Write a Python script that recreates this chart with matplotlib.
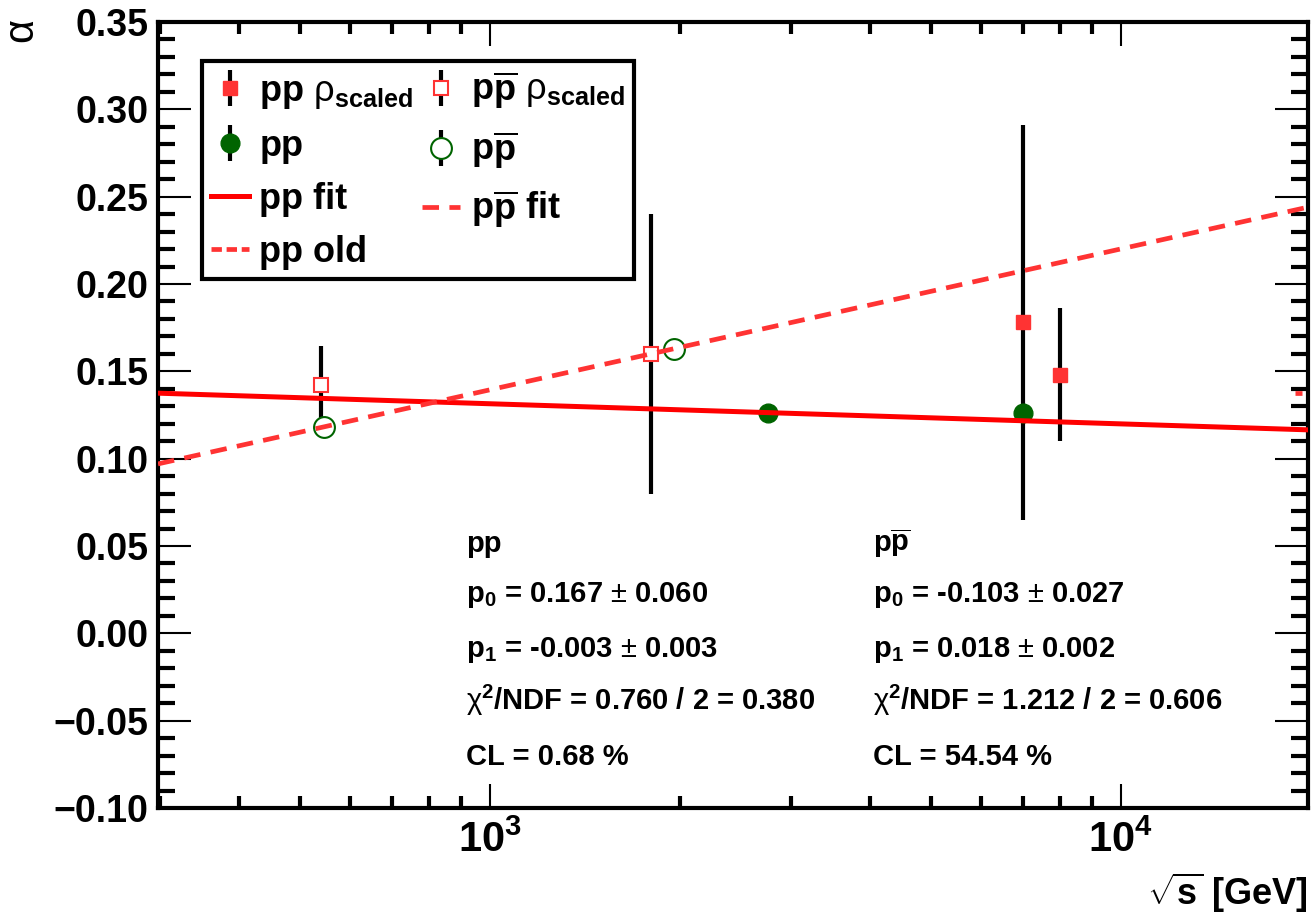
import matplotlib
matplotlib.use("Agg")
import matplotlib.pyplot as plt
from matplotlib.ticker import LogLocator, NullFormatter, MultipleLocator, FuncFormatter, LogFormatterMathtext

# pp, rho scaled (filled red squares)
pp_rho_x = [7000, 8000]
pp_rho_y = [0.178, 0.148]
pp_rho_err = [0.113, 0.038]

# p pbar, rho scaled (open red squares)
pbar_rho_x = [540, 1800]
pbar_rho_y = [0.142, 0.160]
pbar_rho_err = [0.0225, 0.080]

# pp (filled green circles)
pp_x = [2760, 7000]
pp_y = [0.126, 0.126]
pp_err = [0.0, 0.0]

# p pbar (open green circles)
pbar_x = [546, 1960]
pbar_y = [0.118, 0.163]
pbar_err = [0.0, 0.0]

# fit lines (straight in log sqrt(s))
fit_x = [298, 19800]
pp_fit_y = [0.1375, 0.1165]
pbar_fit_y = [0.097, 0.244]
pp_old_x = [18900, 19400]
pp_old_y = [0.1378, 0.1378]

pp_text = ["pp",
           r"p$_{\mathbf{0}}$ = 0.167 $\pm$ 0.060",
           r"p$_{\mathbf{1}}$ = -0.003 $\pm$ 0.003",
           r"$\mathrm{\chi}^{\mathbf{2}}$/NDF = 0.760 / 2 = 0.380",
           "CL = 0.68 %"]
pbar_text = [r"p$\mathbf{\overline{p}}$",
             r"p$_{\mathbf{0}}$ = -0.103 $\pm$ 0.027",
             r"p$_{\mathbf{1}}$ = 0.018 $\pm$ 0.002",
             r"$\mathrm{\chi}^{\mathbf{2}}$/NDF = 1.212 / 2 = 0.606",
             "CL = 54.54 %"]
text_rows = [0.326, 0.262, 0.192, 0.125, 0.055]

plt.rcParams["font.family"] = ["Liberation Sans", "DejaVu Sans"]
plt.rcParams["font.weight"] = "bold"
plt.rcParams["mathtext.fontset"] = "custom"
plt.rcParams["mathtext.rm"] = "Liberation Sans:weight=normal"
plt.rcParams["mathtext.bf"] = "Liberation Sans:weight=bold"
plt.rcParams["mathtext.it"] = "Liberation Sans:italic:weight=normal"

red = "#ff3333"
green = "#006400"

fig = plt.figure(figsize=(13.14, 9.18), dpi=100)
ax = fig.add_axes([158 / 1314, 1 - 808 / 918, 1150 / 1314, 786 / 918])

h_pp = ax.errorbar(pp_x, pp_y, yerr=pp_err, fmt="o", ms=13.5, color=green,
                   ecolor="black", elinewidth=3, capsize=0, zorder=2)
h_pbar = ax.errorbar(pbar_x, pbar_y, yerr=pbar_err, fmt="o", ms=15, mfc="white",
                     mec=green, mew=1.5, ecolor="black", elinewidth=3, capsize=0, zorder=2)
h_pprho = ax.errorbar(pp_rho_x, pp_rho_y, yerr=pp_rho_err, fmt="s", ms=10, color=red,
                      ecolor="black", elinewidth=3, capsize=0, zorder=2)
h_pbarrho = ax.errorbar(pbar_rho_x, pbar_rho_y, yerr=pbar_rho_err, fmt="s", ms=10, mfc="white",
                        mec=red, mew=1.5, ecolor="black", elinewidth=3, capsize=0, zorder=2)

h_ppfit, = ax.plot(fit_x, pp_fit_y, color="red", lw=3.6, zorder=3)
h_pbarfit, = ax.plot(fit_x, pbar_fit_y, color=red, lw=3.4, ls=(0, (3.5, 2.2)), zorder=3)
h_ppold, = ax.plot(pp_old_x, pp_old_y, color=red, lw=3.4, ls=(0, (2.2, 1.0)), zorder=3)

ax.set_xscale("log")
ax.set_xlim(298, 19800)
ax.set_ylim(-0.10, 0.35)

ax.xaxis.set_major_locator(LogLocator(base=10))
ax.xaxis.set_major_formatter(LogFormatterMathtext())
ax.xaxis.set_minor_locator(LogLocator(base=10, subs=range(2, 10)))
ax.xaxis.set_minor_formatter(NullFormatter())
ax.yaxis.set_major_locator(MultipleLocator(0.05))
ax.yaxis.set_minor_locator(MultipleLocator(0.01))
ax.yaxis.set_major_formatter(FuncFormatter(lambda v, p: f"{v:.2f}".replace("-", "\u2212")))

ax.tick_params(which="both", direction="in", top=True, right=True)
ax.tick_params(axis="y", which="major", length=24, width=1.5, pad=7, labelsize=27)
ax.tick_params(axis="y", which="minor", length=12, width=3)
ax.tick_params(axis="x", which="major", length=17, width=1.5, pad=9, labelsize=30)
ax.tick_params(axis="x", which="minor", length=8.5, width=3)
for s in ax.spines.values():
    s.set_linewidth(3)

leg = ax.legend([h_pprho, h_pp, h_ppfit, h_ppold, h_pbarrho, h_pbar, h_pbarfit],
                [r"pp $\mathrm{\rho}_{\mathbf{scaled}}$", "pp", "pp fit", "pp old",
                 r"p$\mathbf{\overline{p}}$ $\mathrm{\rho}_{\mathbf{scaled}}$",
                 r"p$\mathbf{\overline{p}}$", r"p$\mathbf{\overline{p}}$ fit"],
                ncol=2, loc="upper left", bbox_to_anchor=(0.038, 0.951), fontsize=26,
                frameon=True, fancybox=False, edgecolor="black", framealpha=1,
                borderpad=0.25, labelspacing=0.5, handlelength=1.05, handletextpad=0.3,
                columnspacing=0.25, borderaxespad=0)
leg.get_frame().set_linewidth(3)

for t, yy in zip(pp_text, text_rows):
    ax.text(0.268, yy, t, transform=ax.transAxes, fontsize=21, va="baseline")
for t, yy in zip(pbar_text, text_rows):
    ax.text(0.622, yy, t, transform=ax.transAxes, fontsize=21, va="baseline")

fig.text(23 / 1314, 1 - 32 / 918, r"$\mathrm{\alpha}$", rotation=90, fontsize=30,
         ha="center", va="center")
fig.text(1308 / 1314, 1 - 905 / 918, r"$\sqrt{\mathbf{s}}$ [GeV]", fontsize=26,
         ha="right", va="baseline")

fig.savefig("out.png", dpi=100)
